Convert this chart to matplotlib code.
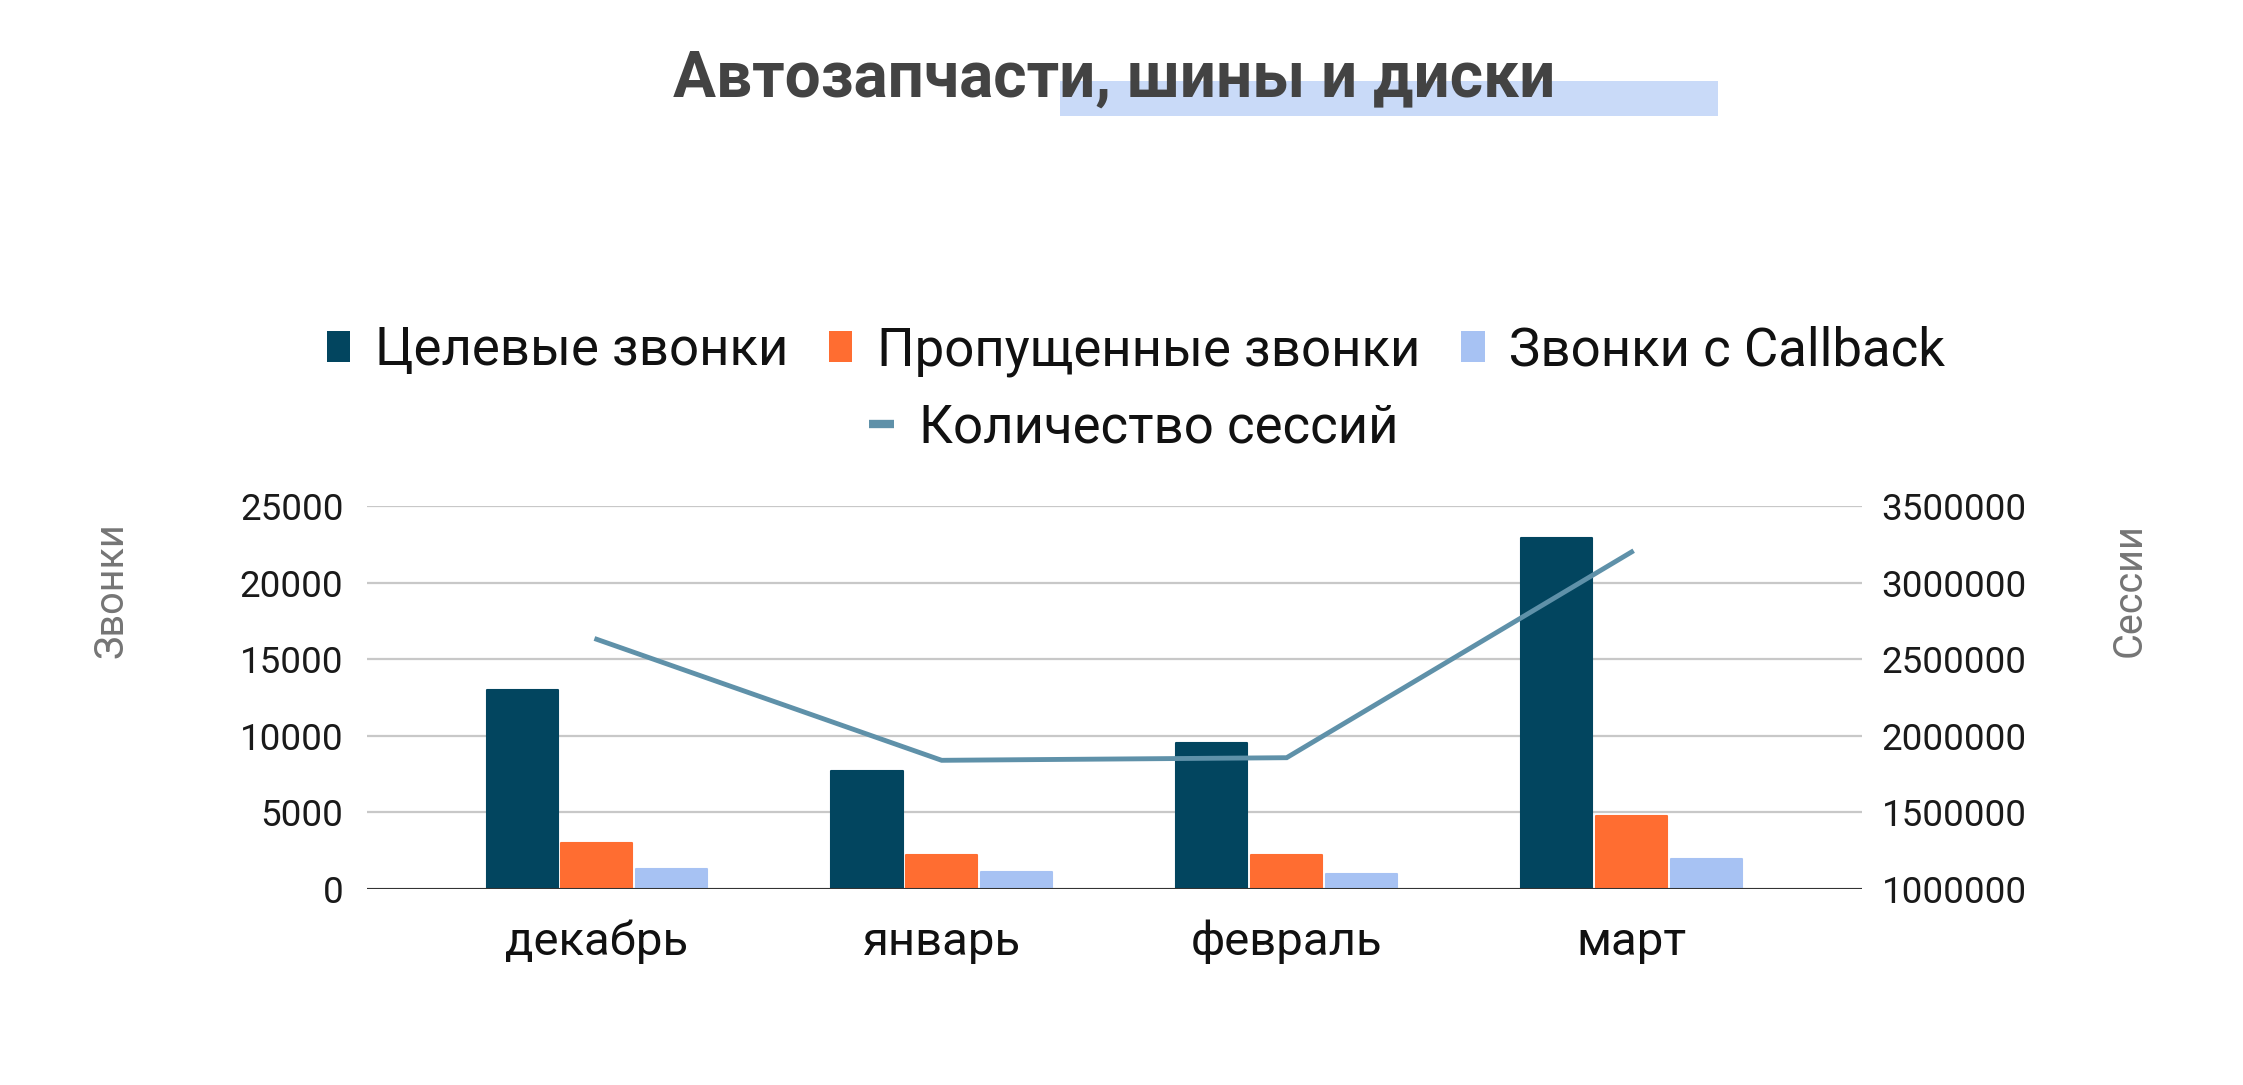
import numpy as np
import matplotlib
matplotlib.use("Agg")
import matplotlib.pyplot as plt
from matplotlib.patches import Patch, Rectangle
from matplotlib.lines import Line2D

plt.rcParams['font.family'] = ['Roboto', 'DejaVu Sans']

# ---- data ----
months = ["декабрь", "январь", "февраль", "март"]
target_calls = [13000, 7700, 9550, 22900]
missed_calls = [3000, 2200, 2200, 4750]
callback_calls = [1280, 1100, 950, 1940]
sessions = [2630000, 1840000, 1857000, 3200000]

series_names = ["Целевые звонки", "Пропущенные звонки", "Звонки с Callback"]
line_name = "Количество сессий"
title = "Автозапчасти, шины и диски"
left_label = "Звонки"
right_label = "Сессии"
left_ticks = [0, 5000, 10000, 15000, 20000, 25000]
right_ticks = [1000000, 1500000, 2000000, 2500000, 3000000, 3500000]

colors = ["#02455f", "#ff6d31", "#a7c2f3"]
line_color = "#5f91a9"

W, H = 2243, 1085
fig = plt.figure(figsize=(W / 100, H / 100), dpi=100)

def fx(px):
    return px / W

def fy(py):
    return 1 - py / H

ax = fig.add_axes([fx(367), fy(889), fx(1862) - fx(367), fy(506) - fy(889)])
ax2 = ax.twinx()

x = np.arange(len(months))
step = 0.2165
bw = 0.206
for i, (vals, c) in enumerate(zip([target_calls, missed_calls, callback_calls], colors)):
    ax.bar(x + (i - 1) * step, vals, width=bw, color=c, zorder=3,
           edgecolor=c, linewidth=1.5, joinstyle='round')

ax2.plot(x, sessions, color=line_color, lw=3.5, zorder=4, solid_joinstyle='miter')

ax.set_xlim(-0.666, 3.668)
ax.set_ylim(0, 25000)
ax2.set_ylim(1000000, 3500000)

ax.set_yticks(left_ticks)
ax.set_yticklabels([str(t) for t in left_ticks])
ax2.set_yticks(right_ticks)
ax2.set_yticklabels([str(t) for t in right_ticks])
ax.set_xticks(x)
ax.set_xticklabels(months)

ax.grid(axis='y', color='#c8c8c8', lw=1.6, zorder=0)
ax.set_axisbelow(True)
for a in (ax, ax2):
    for s in a.spines.values():
        s.set_visible(False)
ax.axhline(0, color='#333333', lw=2.2, zorder=5)

ax.tick_params(axis='y', length=0, pad=17, labelsize=26.5, labelcolor='#1a1a1a')
ax2.tick_params(axis='y', length=0, pad=14, labelsize=26.5, labelcolor='#1a1a1a')
ax.tick_params(axis='x', length=0, pad=22, labelsize=34, labelcolor='#111111')
ax2.patch.set_visible(False)

# axis titles
fig.text(fx(111), fy(590), left_label, rotation=90, ha='center', va='center',
         fontsize=28.5, color='#757575')
fig.text(fx(2129), fy(590), right_label, rotation=90, ha='center', va='center',
         fontsize=28.5, color='#757575')

# title with highlight
fig.patches.append(Rectangle((fx(1060), fy(116)), fx(1718) - fx(1060), fy(81) - fy(116),
                             transform=fig.transFigure, facecolor='#c9daf8',
                             edgecolor='none', zorder=0))
fig.text(fx(1114), fy(97), title, ha='center', va='baseline', fontsize=46,
         fontweight='bold', color='#434343', zorder=2)

# legend
handles = [Patch(facecolor=c, edgecolor='none') for c in colors]
leg1 = fig.legend(handles, series_names, ncol=3, loc='center',
                  bbox_to_anchor=(fx(1136), fy(351)), frameon=False,
                  fontsize=38, handlelength=0.44, handleheight=0.55,
                  handletextpad=0.46, columnspacing=0.78, borderpad=0,
                  labelcolor='#111111')
lh = Line2D([0], [0], color=line_color, lw=6, solid_capstyle='butt')
leg2 = fig.legend([lh], [line_name], loc='center',
                  bbox_to_anchor=(fx(1134), fy(428)), frameon=False,
                  fontsize=38, handlelength=0.46, handletextpad=0.48,
                  borderpad=0, labelcolor='#111111')

fig.savefig("out.png", dpi=100, facecolor='white')
